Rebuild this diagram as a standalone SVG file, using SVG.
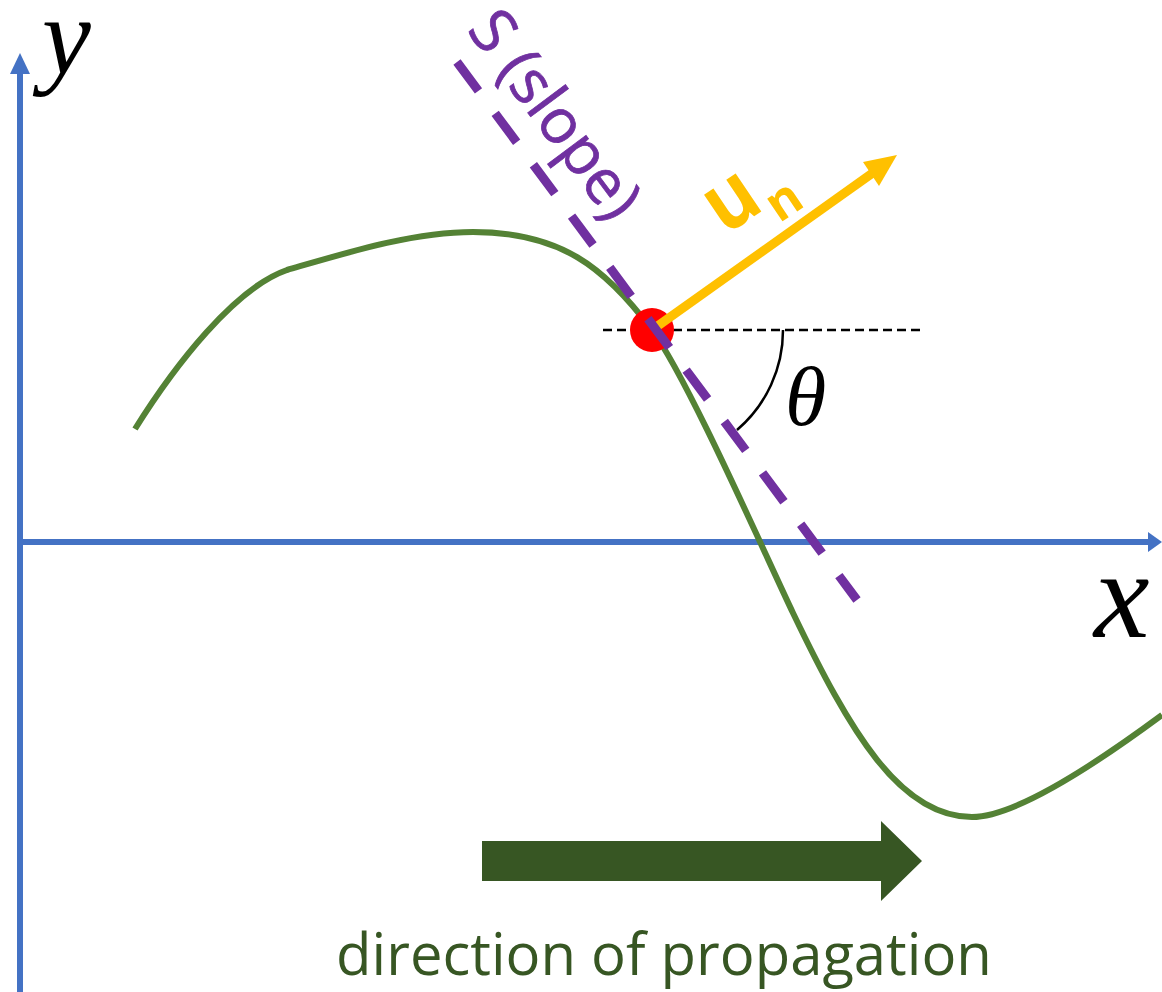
<svg xmlns="http://www.w3.org/2000/svg" width="1162" height="992" viewBox="0 0 1162 992">
<style>
.axis{stroke:#4472C4;stroke-width:6;fill:none}
.axhead{fill:#4472C4}
.math{font-family:"Liberation Serif","DejaVu Serif",serif;font-style:italic;fill:#000}
.lbl{font-family:"Open Sans","Noto Sans","Liberation Sans",sans-serif}
</style>
<rect width="1162" height="992" fill="#fff"/>
<g id="axes">
<line class="axis" x1="20" y1="992" x2="20" y2="70"/>
<polygon class="axhead" points="20,53 30,74 10,74"/>
<line class="axis" x1="17" y1="542" x2="1152" y2="542"/>
<polygon class="axhead" points="1162,542 1148,532 1148,552"/>
<text class="math" x="42" y="74" font-size="110">y</text>
<text class="math" x="1094" y="637" font-size="125">x</text>
</g>
<g id="wave">
<path d="M135,429 C175,365 235,288 287,270 C347,252.6 413,232 473,232 C560,232 605,267 652,330 C687,377 763,550 793,613 C850,732 900,817 972,817 C1020,817 1112,752 1162,715" fill="none" stroke="#548235" stroke-width="6"/>
</g>
<g id="connectors">
<line id="horizontal" x1="603" y1="330" x2="922" y2="330" stroke="#000" stroke-width="2.5" stroke-dasharray="9 5"/>
<path id="angle-arc" d="M783,330 A131,131 0 0 1 737,430" fill="none" stroke="#000" stroke-width="2.5"/>
</g>
<g id="point">
<circle cx="652" cy="330" r="22" fill="#FF0000"/>
</g>
<g id="normal-vector">
<line x1="652" y1="330" x2="874" y2="172" stroke="#FFC000" stroke-width="9"/>
<polygon points="897,155 879,186 863,162" fill="#FFC000"/>
<g transform="translate(725,236) rotate(-34)" fill="#FFC000" class="lbl" font-weight="bold">
<text x="0" y="0" font-size="84" transform="scale(0.9,1)">u</text>
<text x="52" y="20" font-size="50">n</text>
</g>
</g>
<g id="slope">
<line x1="457" y1="62" x2="857" y2="600" stroke="#7030A0" stroke-width="9" stroke-dasharray="36 28"/>
<text class="lbl" transform="translate(466,30) rotate(53.3)" font-size="62" fill="#7030A0" stroke="#7030A0" stroke-width="0.8">S (slope)</text>
</g>
<text id="theta" class="math" x="785" y="425" font-size="84">θ</text>
<g id="propagation">
<polygon points="482,841 881,841 881,821 922,861 881,901 881,881 482,881" fill="#375623"/>
<text class="lbl" x="664" y="975" font-size="58" fill="#375623" text-anchor="middle">direction of propagation</text>
</g>
</svg>
